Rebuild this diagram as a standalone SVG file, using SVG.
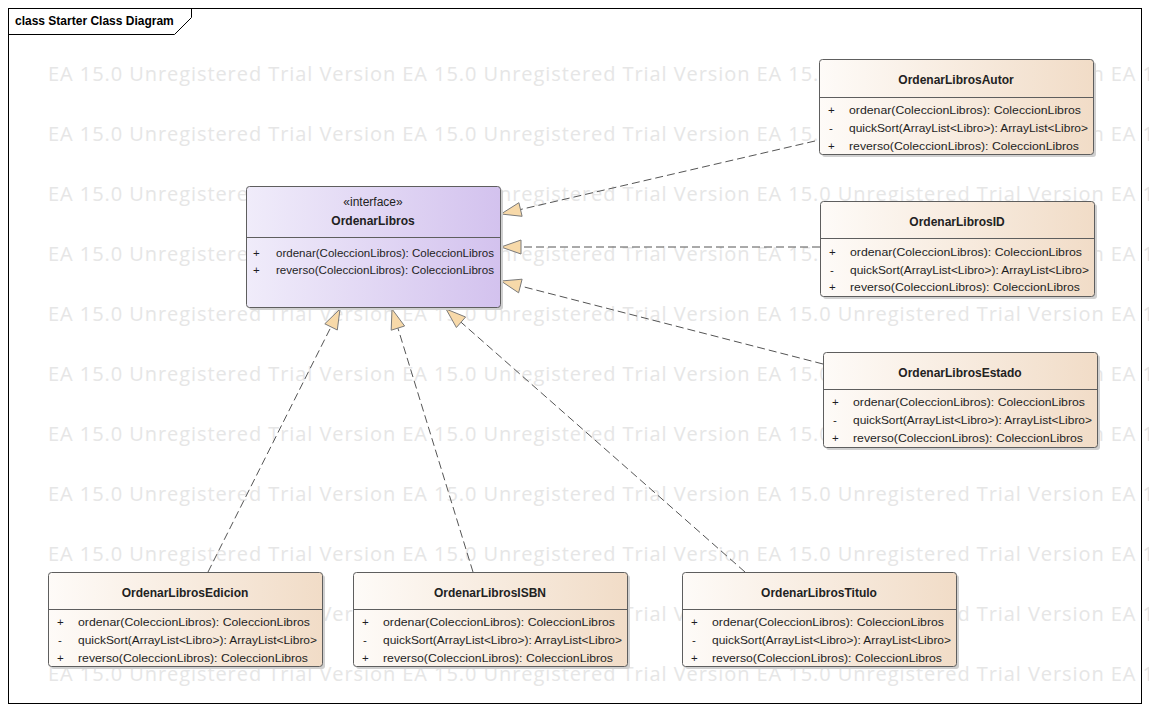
<svg xmlns="http://www.w3.org/2000/svg" width="1149" height="711" viewBox="0 0 1149 711">
  <style>
    .wm { font-family: "Open Sans", "Noto Sans", sans-serif; font-size: 20px; fill: #e6e6e6; }
    .frame { fill: none; stroke: #000; stroke-width: 1; }
    .title { font-family: "Liberation Sans", Arial, sans-serif; font-size: 12px; font-weight: bold; fill: #000; }
    .box { stroke: #5e5e5e; stroke-width: 1; }
    .shadow { fill: #d0d0d0; }
    .cls { fill: url(#peach); }
    .ifc { fill: url(#lavender); }
    .div { stroke: #5e5e5e; stroke-width: 1; }
    .name { font-family: "Liberation Sans", Arial, sans-serif; font-size: 12px; font-weight: bold; fill: #222; text-anchor: middle; }
    .stereo { font-family: "Liberation Sans", Arial, sans-serif; font-size: 12px; fill: #222; text-anchor: middle; }
    .m { font-family: "Liberation Sans", Arial, sans-serif; font-size: 11.5px; fill: #1e1e1e; }
    .edge { fill: none; stroke: #555; stroke-width: 1; stroke-dasharray: 8 4; }
    .head { fill: #f7d9a9; stroke: #7a7a7a; stroke-width: 1; stroke-linejoin: miter; }
  </style>
  <defs>
    <linearGradient id="peach" x1="0" y1="0" x2="1" y2="0">
      <stop offset="0" stop-color="#fefbf8"/>
      <stop offset="1" stop-color="#f1dcc7"/>
    </linearGradient>
    <linearGradient id="lavender" x1="0" y1="0" x2="1" y2="0">
      <stop offset="0" stop-color="#f0ecfa"/>
      <stop offset="1" stop-color="#d3c2ee"/>
    </linearGradient>
  </defs>

  <rect x="0" y="0" width="1149" height="711" fill="#fff"/>

  <!-- background watermark rows -->
  <g id="watermark">
    <text class="wm" x="48" y="81" textLength="1410">EA 15.0 Unregistered Trial Version EA 15.0 Unregistered Trial Version EA 15.0 Unregistered Trial Version EA 15.0 Unregistered Trial Version</text>
    <text class="wm" x="48" y="141" textLength="1410">EA 15.0 Unregistered Trial Version EA 15.0 Unregistered Trial Version EA 15.0 Unregistered Trial Version EA 15.0 Unregistered Trial Version</text>
    <text class="wm" x="48" y="201" textLength="1410">EA 15.0 Unregistered Trial Version EA 15.0 Unregistered Trial Version EA 15.0 Unregistered Trial Version EA 15.0 Unregistered Trial Version</text>
    <text class="wm" x="48" y="261" textLength="1410">EA 15.0 Unregistered Trial Version EA 15.0 Unregistered Trial Version EA 15.0 Unregistered Trial Version EA 15.0 Unregistered Trial Version</text>
    <text class="wm" x="48" y="321" textLength="1410">EA 15.0 Unregistered Trial Version EA 15.0 Unregistered Trial Version EA 15.0 Unregistered Trial Version EA 15.0 Unregistered Trial Version</text>
    <text class="wm" x="48" y="381" textLength="1410">EA 15.0 Unregistered Trial Version EA 15.0 Unregistered Trial Version EA 15.0 Unregistered Trial Version EA 15.0 Unregistered Trial Version</text>
    <text class="wm" x="48" y="441" textLength="1410">EA 15.0 Unregistered Trial Version EA 15.0 Unregistered Trial Version EA 15.0 Unregistered Trial Version EA 15.0 Unregistered Trial Version</text>
    <text class="wm" x="48" y="501" textLength="1410">EA 15.0 Unregistered Trial Version EA 15.0 Unregistered Trial Version EA 15.0 Unregistered Trial Version EA 15.0 Unregistered Trial Version</text>
    <text class="wm" x="48" y="561" textLength="1410">EA 15.0 Unregistered Trial Version EA 15.0 Unregistered Trial Version EA 15.0 Unregistered Trial Version EA 15.0 Unregistered Trial Version</text>
    <text class="wm" x="48" y="621" textLength="1410">EA 15.0 Unregistered Trial Version EA 15.0 Unregistered Trial Version EA 15.0 Unregistered Trial Version EA 15.0 Unregistered Trial Version</text>
    <text class="wm" x="48" y="681" textLength="1410">EA 15.0 Unregistered Trial Version EA 15.0 Unregistered Trial Version EA 15.0 Unregistered Trial Version EA 15.0 Unregistered Trial Version</text>
  </g>

  <!-- diagram frame with name tab -->
  <g id="frame">
    <rect class="frame" x="8.5" y="8.5" width="1133" height="695"/>
    <path class="frame" d="M8.5 34.5 H174.5 L191.5 17.5 V8.5"/>
    <text class="title" x="15" y="25">class Starter Class Diagram</text>
  </g>

  <!-- realization connectors -->
  <g id="connectors">
    <line class="edge" x1="815" y1="141" x2="520.5" y2="209.5"/>
    <polygon class="head" points="501,214 522.1,216.3 518.9,202.7"/>

    <line class="edge" x1="820" y1="247" x2="521" y2="247"/>
    <polygon class="head" points="501,247 521,240 521,254"/>

    <line class="edge" x1="823" y1="364" x2="520.4" y2="286"/>
    <polygon class="head" points="501,281 518.6,292.8 522.1,279.2"/>

    <line class="edge" x1="208" y1="572" x2="331" y2="326.9"/>
    <polygon class="head" points="340,309 337.3,330 324.8,323.8"/>

    <line class="edge" x1="473" y1="572" x2="397.9" y2="328.1"/>
    <polygon class="head" points="392,309 404.6,326 391.2,330.2"/>

    <line class="edge" x1="745" y1="572" x2="461" y2="322.2"/>
    <polygon class="head" points="446,309 465.6,317 456.4,327.5"/>
  </g>

  <!-- interface -->
  <g id="OrdenarLibros">
    <rect class="shadow" x="249" y="189" width="254" height="121" rx="3"/>
    <rect class="box ifc" x="246.5" y="186.5" width="254" height="121" rx="3"/>
    <line class="div" x1="246.5" y1="237.5" x2="500.5" y2="237.5"/>
    <text class="stereo" x="373" y="206">«interface»</text>
    <text class="name" x="373" y="225">OrdenarLibros</text>
    <text class="m" x="253" y="257">+</text>
    <text class="m" x="276" y="257" textLength="218" lengthAdjust="spacingAndGlyphs">ordenar(ColeccionLibros): ColeccionLibros</text>
    <text class="m" x="253" y="274">+</text>
    <text class="m" x="276" y="274" textLength="218" lengthAdjust="spacingAndGlyphs">reverso(ColeccionLibros): ColeccionLibros</text>
  </g>

  <g id="OrdenarLibrosAutor">
    <rect class="shadow" x="822" y="62" width="274" height="95" rx="3"/>
    <rect class="box cls" x="819.5" y="59.5" width="274" height="95" rx="3"/>
    <line class="div" x1="819.5" y1="97.5" x2="1093.5" y2="97.5"/>
    <text class="name" x="956" y="84">OrdenarLibrosAutor</text>
    <text class="m" x="828" y="114">+</text>
    <text class="m" x="849" y="114" textLength="232" lengthAdjust="spacingAndGlyphs">ordenar(ColeccionLibros): ColeccionLibros</text>
    <text class="m" x="829" y="132">-</text>
    <text class="m" x="849" y="132" textLength="239" lengthAdjust="spacingAndGlyphs">quickSort(ArrayList&lt;Libro&gt;): ArrayList&lt;Libro&gt;</text>
    <text class="m" x="828" y="150">+</text>
    <text class="m" x="849" y="150" textLength="230" lengthAdjust="spacingAndGlyphs">reverso(ColeccionLibros): ColeccionLibros</text>
  </g>

  <g id="OrdenarLibrosID">
    <rect class="shadow" x="823" y="204" width="274" height="95" rx="3"/>
    <rect class="box cls" x="820.5" y="201.5" width="274" height="95" rx="3"/>
    <line class="div" x1="820.5" y1="238.5" x2="1094.5" y2="238.5"/>
    <text class="name" x="957" y="226">OrdenarLibrosID</text>
    <text class="m" x="829" y="256">+</text>
    <text class="m" x="850" y="256" textLength="232" lengthAdjust="spacingAndGlyphs">ordenar(ColeccionLibros): ColeccionLibros</text>
    <text class="m" x="830" y="274">-</text>
    <text class="m" x="850" y="274" textLength="239" lengthAdjust="spacingAndGlyphs">quickSort(ArrayList&lt;Libro&gt;): ArrayList&lt;Libro&gt;</text>
    <text class="m" x="829" y="291">+</text>
    <text class="m" x="850" y="291" textLength="230" lengthAdjust="spacingAndGlyphs">reverso(ColeccionLibros): ColeccionLibros</text>
  </g>

  <g id="OrdenarLibrosEstado">
    <rect class="shadow" x="826" y="355" width="274" height="95" rx="3"/>
    <rect class="box cls" x="823.5" y="352.5" width="274" height="95" rx="3"/>
    <line class="div" x1="823.5" y1="389.5" x2="1097.5" y2="389.5"/>
    <text class="name" x="960" y="377">OrdenarLibrosEstado</text>
    <text class="m" x="832" y="406">+</text>
    <text class="m" x="853" y="406" textLength="232" lengthAdjust="spacingAndGlyphs">ordenar(ColeccionLibros): ColeccionLibros</text>
    <text class="m" x="833" y="424">-</text>
    <text class="m" x="853" y="424" textLength="239" lengthAdjust="spacingAndGlyphs">quickSort(ArrayList&lt;Libro&gt;): ArrayList&lt;Libro&gt;</text>
    <text class="m" x="832" y="442">+</text>
    <text class="m" x="853" y="442" textLength="230" lengthAdjust="spacingAndGlyphs">reverso(ColeccionLibros): ColeccionLibros</text>
  </g>

  <g id="OrdenarLibrosEdicion">
    <rect class="shadow" x="51" y="575" width="274" height="94" rx="3"/>
    <rect class="box cls" x="48.5" y="572.5" width="274" height="94" rx="3"/>
    <line class="div" x1="48.5" y1="609.5" x2="322.5" y2="609.5"/>
    <text class="name" x="185" y="597">OrdenarLibrosEdicion</text>
    <text class="m" x="57" y="626">+</text>
    <text class="m" x="78" y="626" textLength="232" lengthAdjust="spacingAndGlyphs">ordenar(ColeccionLibros): ColeccionLibros</text>
    <text class="m" x="58" y="644">-</text>
    <text class="m" x="78" y="644" textLength="239" lengthAdjust="spacingAndGlyphs">quickSort(ArrayList&lt;Libro&gt;): ArrayList&lt;Libro&gt;</text>
    <text class="m" x="57" y="662">+</text>
    <text class="m" x="78" y="662" textLength="230" lengthAdjust="spacingAndGlyphs">reverso(ColeccionLibros): ColeccionLibros</text>
  </g>

  <g id="OrdenarLibrosISBN">
    <rect class="shadow" x="356" y="575" width="274" height="94" rx="3"/>
    <rect class="box cls" x="353.5" y="572.5" width="274" height="94" rx="3"/>
    <line class="div" x1="353.5" y1="609.5" x2="627.5" y2="609.5"/>
    <text class="name" x="490" y="597">OrdenarLibrosISBN</text>
    <text class="m" x="362" y="626">+</text>
    <text class="m" x="383" y="626" textLength="232" lengthAdjust="spacingAndGlyphs">ordenar(ColeccionLibros): ColeccionLibros</text>
    <text class="m" x="363" y="644">-</text>
    <text class="m" x="383" y="644" textLength="239" lengthAdjust="spacingAndGlyphs">quickSort(ArrayList&lt;Libro&gt;): ArrayList&lt;Libro&gt;</text>
    <text class="m" x="362" y="662">+</text>
    <text class="m" x="383" y="662" textLength="230" lengthAdjust="spacingAndGlyphs">reverso(ColeccionLibros): ColeccionLibros</text>
  </g>

  <g id="OrdenarLibrosTitulo">
    <rect class="shadow" x="685" y="575" width="274" height="94" rx="3"/>
    <rect class="box cls" x="682.5" y="572.5" width="274" height="94" rx="3"/>
    <line class="div" x1="682.5" y1="609.5" x2="956.5" y2="609.5"/>
    <text class="name" x="819" y="597">OrdenarLibrosTitulo</text>
    <text class="m" x="691" y="626">+</text>
    <text class="m" x="712" y="626" textLength="232" lengthAdjust="spacingAndGlyphs">ordenar(ColeccionLibros): ColeccionLibros</text>
    <text class="m" x="692" y="644">-</text>
    <text class="m" x="712" y="644" textLength="239" lengthAdjust="spacingAndGlyphs">quickSort(ArrayList&lt;Libro&gt;): ArrayList&lt;Libro&gt;</text>
    <text class="m" x="691" y="662">+</text>
    <text class="m" x="712" y="662" textLength="230" lengthAdjust="spacingAndGlyphs">reverso(ColeccionLibros): ColeccionLibros</text>
  </g>
</svg>
